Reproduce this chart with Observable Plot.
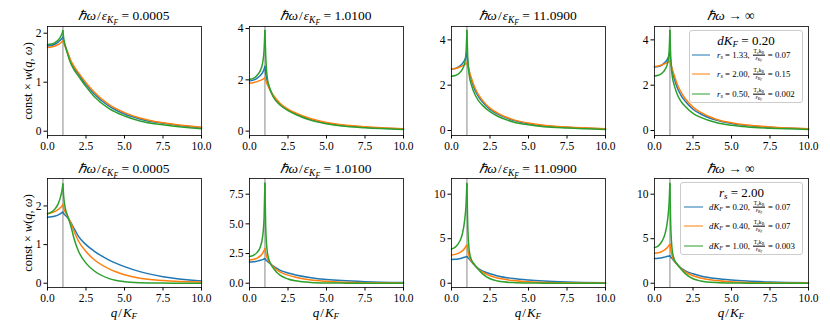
<!DOCTYPE html>
<html><head><meta charset="utf-8">
<script src="https://cdn.jsdelivr.net/npm/d3@7"></script>
<script src="https://cdn.jsdelivr.net/npm/@observablehq/plot@0.6"></script>
<style>
body{margin:0;background:#fff;}
#wrap{position:relative;width:830px;height:332px;font-family:"Liberation Serif",serif;color:#000;overflow:hidden;background:#fff;}
.ttl{position:absolute;transform:translate(-50%,-50%);font-size:13.5px;white-space:nowrap;line-height:1;}
.ylab{position:absolute;transform:translate(-50%,-50%) rotate(-90deg);font-size:12.5px;white-space:nowrap;line-height:1;}
.xlab{position:absolute;transform:translate(-50%,-50%);font-size:13px;white-space:nowrap;line-height:1;}
sub{font-size:70%;vertical-align:-0.3em;line-height:0;}
sub sub{font-size:80%;}
.leg{position:absolute;background:rgba(255,255,255,0.85);border:1px solid #ccc;border-radius:3px;box-sizing:border-box;}
.legt{position:absolute;left:0;right:0;text-align:center;transform:translateY(-50%);font-size:13px;white-space:nowrap;line-height:1;}
.legr{position:absolute;transform:translateY(-50%);font-size:8.8px;white-space:nowrap;line-height:1;display:flex;align-items:center;}
.legl{position:absolute;height:0;border-top:1.5px solid;transform:translateY(-50%);}
.frac{display:inline-flex;flex-direction:column;align-items:center;font-size:5.6px;line-height:1.05;vertical-align:middle;margin:0 1px;}
.frac > span:first-child{border-bottom:0.5px solid #000;padding:0 0.5px;}
.sl{margin:0 1px;}
</style></head><body><div id="wrap"></div><script>
// ---- data ----
const qGrid = [0, 0.25, 0.5, 0.7, 0.85, 0.95, 1, 1.05, 1.15, 1.3, 1.5, 1.75, 2, 2.5, 3, 4, 5, 6, 7.5, 10];
const xTicks = [0, 2.5, 5, 7.5, 10];
const xTickLabels = ["0.0", "2.5", "5.0", "7.5", "10.0"];
const omegaLabels = ["0.0005", "1.0100", "11.0900", "inf"];
const seriesColors = ["#1f77b4", "#ff7f0e", "#2ca02c"];

// top row: dK_F = 0.20, series r_s = 1.33 / 2.00 / 0.50
const p1 = [
  [1.74,1.75,1.78,1.82,1.86,1.90,1.92,1.84,1.74,1.60,1.42,1.28,1.17,0.95,0.77,0.51,0.35,0.25,0.16,0.07],
  [1.71,1.72,1.74,1.77,1.80,1.83,1.84,1.80,1.73,1.62,1.45,1.31,1.20,0.99,0.81,0.54,0.38,0.27,0.17,0.08],
  [1.77,1.78,1.81,1.86,1.93,2.00,2.05,1.90,1.75,1.58,1.39,1.24,1.13,0.91,0.72,0.46,0.31,0.21,0.13,0.05]
];
const p2 = [
  [1.96,1.99,2.07,2.17,2.28,2.42,2.52,2.25,1.95,1.68,1.42,1.20,1.05,0.83,0.68,0.45,0.31,0.23,0.15,0.08],
  [1.87,1.89,1.93,1.98,2.02,2.06,2.08,1.98,1.83,1.64,1.44,1.24,1.08,0.86,0.71,0.48,0.34,0.25,0.17,0.09],
  [2.02,2.06,2.18,2.36,2.65,3.20,3.92,3.00,2.10,1.70,1.38,1.16,1.01,0.80,0.65,0.42,0.29,0.20,0.13,0.06]
];
const p3 = [
  [2.72,2.74,2.83,2.95,3.10,3.28,3.41,3.05,2.60,2.22,1.82,1.50,1.27,0.93,0.72,0.45,0.30,0.21,0.14,0.07],
  [2.72,2.74,2.79,2.85,2.91,2.95,2.97,2.85,2.62,2.30,1.92,1.58,1.34,0.99,0.77,0.48,0.33,0.23,0.15,0.08],
  [2.40,2.43,2.53,2.70,2.95,3.50,4.41,3.30,2.45,2.00,1.62,1.32,1.12,0.83,0.63,0.38,0.25,0.17,0.11,0.05]
];
const p4 = [
  [2.80,2.82,2.90,3.02,3.16,3.32,3.43,3.10,2.65,2.25,1.85,1.52,1.29,0.94,0.73,0.46,0.31,0.22,0.14,0.07],
  [2.83,2.85,2.90,2.96,3.01,3.05,3.06,2.94,2.72,2.40,2.00,1.66,1.40,1.03,0.80,0.50,0.34,0.24,0.16,0.08],
  [2.41,2.44,2.54,2.71,2.96,3.50,4.41,3.30,2.42,1.96,1.56,1.26,1.06,0.76,0.58,0.35,0.23,0.16,0.10,0.05]
];
// bottom row: r_s = 2.00, series dK_F = 0.20 / 0.40 / 1.00
const p5 = [
  [1.71,1.72,1.74,1.77,1.80,1.83,1.84,1.80,1.76,1.70,1.58,1.40,1.22,1.00,0.84,0.60,0.43,0.30,0.17,0.06],
  [1.80,1.82,1.86,1.91,1.96,2.01,2.04,1.94,1.84,1.74,1.58,1.32,1.10,0.82,0.62,0.37,0.22,0.13,0.07,0.03],
  [1.80,1.84,1.93,2.06,2.24,2.42,2.57,2.25,1.95,1.75,1.50,1.12,0.84,0.52,0.33,0.12,0.04,0.015,0.005,0]
];
const p6 = [
  [1.78,1.80,1.86,1.93,1.99,2.04,2.07,1.98,1.86,1.70,1.48,1.27,1.08,0.86,0.70,0.47,0.32,0.22,0.13,0.06],
  [1.96,2.00,2.12,2.30,2.52,2.78,2.92,2.55,2.12,1.75,1.45,1.15,0.93,0.68,0.50,0.27,0.16,0.09,0.04,0.02],
  [2.25,2.35,2.60,3.05,3.90,5.60,8.43,4.80,2.70,1.85,1.35,0.95,0.66,0.36,0.20,0.06,0.02,0.01,0,0]
];
const p7 = [
  [2.66,2.68,2.75,2.84,2.92,2.98,3.00,2.90,2.72,2.40,2.02,1.64,1.38,1.06,0.82,0.52,0.35,0.24,0.14,0.06],
  [3.18,3.24,3.40,3.63,3.90,4.18,4.30,3.75,3.00,2.45,2.05,1.60,1.27,0.84,0.58,0.30,0.16,0.09,0.04,0.02],
  [3.85,4.05,4.60,5.50,7.00,9.00,11.2,6.80,3.70,2.60,2.08,1.55,1.08,0.50,0.25,0.07,0.02,0.01,0,0]
];
const p8 = [
  [2.77,2.80,2.87,2.96,3.02,3.06,3.07,2.95,2.76,2.44,2.05,1.66,1.39,1.06,0.82,0.52,0.35,0.24,0.14,0.06],
  [3.37,3.42,3.58,3.80,4.05,4.28,4.38,3.80,3.05,2.48,2.07,1.61,1.27,0.84,0.58,0.30,0.16,0.09,0.04,0.02],
  [4.00,4.20,4.75,5.65,7.10,9.10,11.2,6.80,3.70,2.60,2.08,1.55,1.08,0.50,0.25,0.07,0.02,0.01,0,0]
];
const panels = [p1, p2, p3, p4, p5, p6, p7, p8];

const yDomains = [[-0.088,2.137],[-0.17,4.08],[-0.22,4.59],[-0.22,4.59],[-0.11,2.71],[-0.36,8.82],[-0.48,11.76],[-0.48,11.76]];
const yTicks = [[0,1,2],[0,2,4],[0,2,4],[0,2,4],[0,1,2],[0,2.5,5,7.5],[0,5,10],[0,5,10]];
const yTickLabels = [["0","1","2"],["0","2","4"],["0","2","4"],["0","2","4"],["0","1","2"],["0.0","2.5","5.0","7.5"],["0","5","10"],["0","5","10"]];

const legendTitles = ['<i>dK<sub>F</sub></i> = 0.20', '<i>r<sub>s</sub></i> = 2.00'];
const legendLeft = [["<i>r<sub>s</sub></i> = 1.33,", "<i>r<sub>s</sub></i> = 2.00,", "<i>r<sub>s</sub></i> = 0.50,"],
                    ["<i>dK<sub>F</sub></i> = 0.20,", "<i>dK<sub>F</sub></i> = 0.40,", "<i>dK<sub>F</sub></i> = 1.00,"]];
const legendRight = [["0.07", "0.15", "0.002"], ["0.07", "0.07", "0.003"]];

// ---- layout ----
const FONT = "'Liberation Serif', serif";
const wrap = document.getElementById("wrap");
const panelLeft = [47, 249, 451, 654], panelTop = [26, 178], pw = 154, ph = 109;
const mL = 30, mR = 12, mT = 4, mB = 24;

function add(cls, html, x, y, extra) {
  const d = document.createElement("div");
  d.className = cls; d.innerHTML = html;
  d.style.left = x + "px"; d.style.top = y + "px";
  d.style.fontFamily = FONT;
  if (extra) Object.assign(d.style, extra);
  wrap.appendChild(d);
  return d;
}

panels.forEach((series, i) => {
  const row = Math.floor(i / 4), col = i % 4;
  const marks = [Plot.ruleX([1], {stroke: "#b5b5b5", strokeWidth: 1.6})];
  series.forEach((vals, s) => {
    const rows = [];
    qGrid.forEach((q, k) => {
      if (q <= 1) rows.push({q, v: vals[k], seg: "L"});
      if (q >= 1) rows.push({q, v: vals[k], seg: "R"});
    });
    marks.push(Plot.line(rows, {x: "q", y: "v", z: "seg", stroke: seriesColors[s], strokeWidth: 1.5, curve: "monotone-x"}));
  });
  marks.push(Plot.frame({stroke: "#000", strokeWidth: 0.8}));
  const yt = yTicks[i], yl = yTickLabels[i];
  const svg = Plot.plot({
    width: pw + mL + mR, height: ph + mT + mB,
    marginLeft: mL, marginRight: mR, marginTop: mT, marginBottom: mB,
    x: {domain: [0, 10], ticks: xTicks, tickFormat: d => xTickLabels[xTicks.indexOf(d)], tickSize: 3.5, tickPadding: 2.5, label: null},
    y: {domain: yDomains[i], ticks: yt, tickFormat: d => yl[yt.indexOf(d)], tickSize: 3.5, tickPadding: 2.5, label: null},
    style: {background: "transparent", overflow: "visible", fontFamily: FONT, fontSize: "11.5px", color: "#000"},
    marks
  });
  svg.style.position = "absolute";
  svg.style.left = (panelLeft[col] - mL) + "px";
  svg.style.top = (panelTop[row] - mT) + "px";
  wrap.appendChild(svg);

  const om = omegaLabels[col];
  const title = om === "inf" ? "<i>ℏω</i> → ∞" : `<i>ℏω</i><span class="sl">/</span><i>ε</i><sub><i>K<sub>F</sub></i></sub> = ${om}`;
  add("ttl", title, panelLeft[col] + pw / 2, row === 0 ? 16 : 169);
});

add("ylab", "const × <i>w</i>(<i>q</i>, <i>ω</i>)", 28, 81);
add("ylab", "const × <i>w</i>(<i>q</i>, <i>ω</i>)", 28, 233);
panelLeft.forEach(x => add("xlab", "<i>q</i><span class=\"sl\">/</span><i>K<sub>F</sub></i>", x + pw / 2, 312));

// legends
const legBox = [[689, 30, 114, 73], [680, 182, 123, 73]];
const legLine = [[2, 20, 27], [3, 22, 28]];
const rowY = [24, 43, 63];
legBox.forEach((b, li) => {
  const box = add("leg", "", b[0], b[1], {width: b[2] + "px", height: b[3] + "px"});
  const t = document.createElement("div"); t.className = "legt"; t.style.top = "8.5px"; t.innerHTML = legendTitles[li]; box.appendChild(t);
  rowY.forEach((y, r) => {
    const l = document.createElement("div"); l.className = "legl";
    Object.assign(l.style, {left: legLine[li][0] + "px", width: (legLine[li][1] - legLine[li][0]) + "px", top: y + "px", borderColor: seriesColors[r]});
    box.appendChild(l);
    const e = document.createElement("div"); e.className = "legr";
    Object.assign(e.style, {left: legLine[li][2] + "px", top: y + "px"});
    e.innerHTML = `<span>${legendLeft[li][r]}&nbsp;</span><span class="frac"><span>T<sub>c</sub>k<sub>B</sub></span><span><i>ε</i><sub><i>K</i><sub>F</sub></sub></span></span><span>&nbsp;= ${legendRight[li][r]}</span>`;
    box.appendChild(e);
  });
});
</script></body></html>
